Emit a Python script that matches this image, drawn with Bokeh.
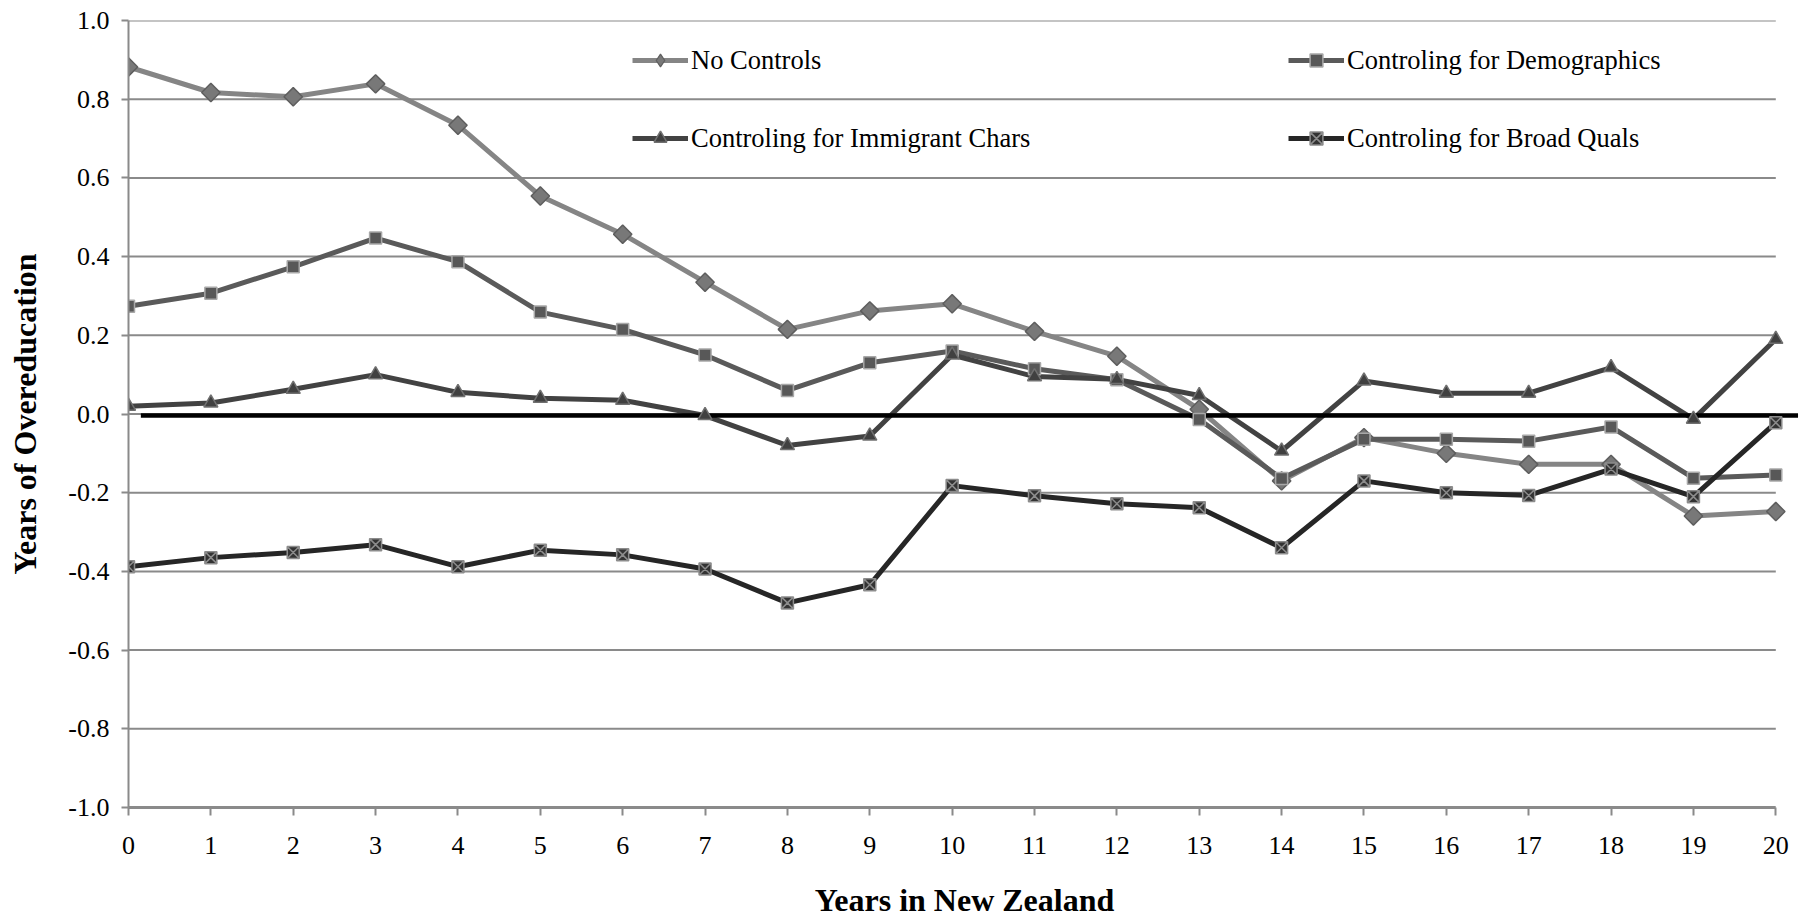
from bokeh.plotting import figure
from bokeh.models import Legend, LegendItem, FixedTicker, PrintfTickFormatter, Range1d
from bokeh.embed import file_html
from bokeh.resources import INLINE
import math

years = list(range(21))
no_controls = [0.882, 0.817, 0.806, 0.839, 0.734, 0.554, 0.457, 0.335, 0.215, 0.262, 0.28, 0.21, 0.147, 0.012,
               -0.17, -0.06, -0.10, -0.128, -0.128, -0.259, -0.248]
demographics = [0.274, 0.307, 0.374, 0.447, 0.387, 0.259, 0.215, 0.15, 0.06, 0.13, 0.16, 0.115, 0.087, -0.014,
                -0.164, -0.064, -0.064, -0.069, -0.033, -0.163, -0.155]
immigrant_chars = [0.02, 0.028, 0.063, 0.10, 0.055, 0.04, 0.035, -0.004, -0.08, -0.056, 0.15, 0.095, 0.088, 0.047,
                   -0.094, 0.084, 0.053, 0.053, 0.118, -0.013, 0.19]
broad_quals = [-0.388, -0.365, -0.352, -0.332, -0.388, -0.346, -0.358, -0.394, -0.48, -0.434, -0.182, -0.208,
               -0.228, -0.238, -0.34, -0.17, -0.20, -0.207, -0.14, -0.21, -0.022]
series_names = ["No Controls", "Controling for Demographics",
                "Controling for Immigrant Chars", "Controling for Broad Quals"]
y_ticks = [-1.0, -0.8, -0.6, -0.4, -0.2, 0.0, 0.2, 0.4, 0.6, 0.8, 1.0]
zero_line_x = [0.15, 20.27]
zero_line_y = [-0.004, -0.004]

FONT = "Liberation Serif"
GRID = "#8a8a8a"

p = figure(width=1804, height=921, output_backend="svg", toolbar_location=None,
           x_range=Range1d(0, 20.3), y_range=Range1d(-1.0, 1.0),
           min_border_left=128, min_border_right=4, min_border_top=20, min_border_bottom=114)
p.outline_line_color = None
p.xgrid.visible = False
p.ygrid.visible = False
p.background_fill_color = "white"

# horizontal gridlines limited to the data span
p.segment(x0=years[0], x1=years[-1], y0=y_ticks, y1=y_ticks, line_color=GRID, line_width=2)

styles = [
    dict(data=no_controls, line="#858585", lw=5, marker="square", angle=math.pi / 4, size=13,
         fill="#787878", mline="#5e5e5e"),
    dict(data=demographics, line="#5a5a5a", lw=5, marker="square", angle=0.0, size=12,
         fill="#585858", mline="#a8a8a8"),
    dict(data=immigrant_chars, line="#424242", lw=5, marker="triangle", angle=0.0, size=14,
         fill="#404040", mline="#707070"),
    dict(data=broad_quals, line="#262626", lw=5, marker="square_x", angle=0.0, size=12,
         fill="#333333", mline="#8c8c8c"),
]

line_renderers = []
for st in styles:
    r = p.line(years, st["data"], line_color=st["line"], line_width=st["lw"])
    line_renderers.append(r)

p.line(zero_line_x, zero_line_y, line_color="black", line_width=4.5)

legend_markers = []
for i, st in enumerate(styles):
    if i == 0:
        # a diamond marker hidden under the rotated squares, used as the legend swatch
        # (legend glyphs are never rotated)
        lm = p.scatter(years, st["data"], marker="diamond", size=st["size"],
                       fill_color=st["fill"], line_color=st["mline"], line_width=1.2)
    m = p.scatter(years, st["data"], marker=st["marker"], angle=st["angle"], size=st["size"],
                  fill_color=st["fill"], line_color=st["mline"], line_width=1.5)
    legend_markers.append(lm if i == 0 else m)

items = [LegendItem(label=n, renderers=[l, m]) for n, l, m in zip(series_names, line_renderers, legend_markers)]
legend = Legend(items=items, orientation="horizontal", ncols=2, location=(504, 653),
                glyph_width=56, glyph_height=32, label_height=24, label_width=551, label_standoff=3,
                spacing=46, padding=0, margin=0, border_line_alpha=0, background_fill_alpha=0,
                label_text_font=FONT, label_text_font_size="26.5px", label_text_color="black")
p.add_layout(legend, "center")

# x axis
xa = p.xaxis[0]
xa.ticker = FixedTicker(ticks=years)
xa.bounds = (years[0], years[-1])
xa.axis_line_color = GRID
xa.axis_line_width = 3
xa.major_tick_line_color = GRID
xa.major_tick_line_width = 2
xa.major_tick_in = 0
xa.major_tick_out = 8
xa.minor_tick_line_color = None
xa.major_label_text_font = FONT
xa.major_label_text_font_size = "26px"
xa.major_label_text_color = "black"
xa.major_label_standoff = 21
xa.axis_label = "Years in New Zealand"
xa.axis_label_text_font = FONT
xa.axis_label_text_font_size = "32px"
xa.axis_label_text_font_style = "bold"
xa.axis_label_text_color = "black"
xa.axis_label_standoff = 25

# y axis
ya = p.yaxis[0]
ya.ticker = FixedTicker(ticks=y_ticks)
ya.formatter = PrintfTickFormatter(format="%.1f")
ya.bounds = (y_ticks[0], y_ticks[-1])
ya.axis_line_color = GRID
ya.axis_line_width = 2
ya.major_tick_line_color = GRID
ya.major_tick_line_width = 2
ya.major_tick_in = 0
ya.major_tick_out = 7
ya.minor_tick_line_color = None
ya.major_label_text_font = FONT
ya.major_label_text_font_size = "26px"
ya.major_label_text_color = "black"
ya.major_label_standoff = 12
ya.axis_label = "Years of Overeducation"
ya.axis_label_text_font = FONT
ya.axis_label_text_font_size = "32px"
ya.axis_label_text_font_style = "bold"
ya.axis_label_text_color = "black"
ya.axis_label_standoff = 22

open("out.html", "w").write(file_html(p, INLINE))
